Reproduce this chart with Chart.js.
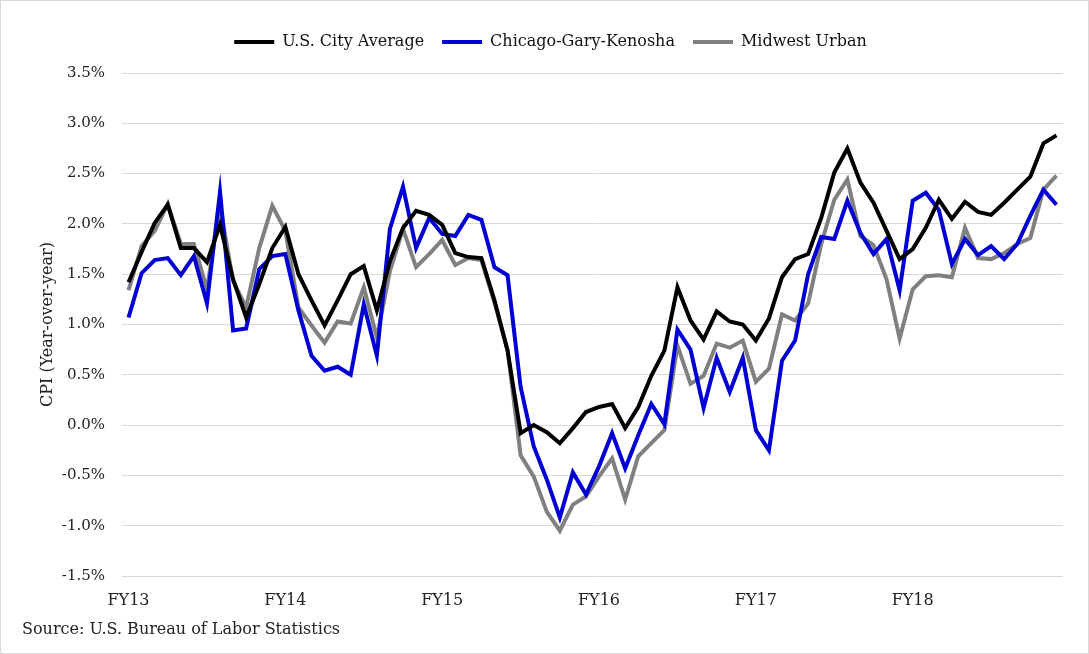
<!DOCTYPE html>
<html lang="en">
<head>
<meta charset="UTF-8">
<title>CPI Year-over-year</title>
<script src="https://cdn.jsdelivr.net/npm/chart.js"></script>
<style>
  html, body { margin: 0; padding: 0; background: #fff; }
  #wrap { position: relative; width: 1087px; height: 652px; border: 1px solid #d9d9d9; }
</style>
</head>
<body>
<div id="wrap"><canvas id="cpiChart" width="1087" height="652"></canvas></div>
<script>
// fiscal year labels, one every 12 months
const fyLabels = ['FY13', 'FY14', 'FY15', 'FY16', 'FY17', 'FY18'];

// monthly CPI year-over-year change (%)
const usCityAverage = [
  1.42, 1.72, 2.01, 2.19, 1.76, 1.76, 1.62, 1.99, 1.45, 1.07, 1.40, 1.76,
  1.97, 1.50, 1.24, 0.99, 1.24, 1.50, 1.58, 1.14, 1.63, 1.96, 2.13, 2.09,
  1.99, 1.71, 1.67, 1.66, 1.24, 0.74, -0.08, 0.00, -0.07, -0.18, -0.03, 0.13,
  0.18, 0.21, -0.03, 0.18, 0.49, 0.74, 1.37, 1.04, 0.85, 1.13, 1.03, 1.00,
  0.84, 1.06, 1.47, 1.65, 1.70, 2.06, 2.51, 2.75, 2.41, 2.21, 1.93, 1.65,
  1.75, 1.96, 2.24, 2.05, 2.22, 2.12, 2.09, 2.21, 2.34, 2.47, 2.80, 2.88
];
const chicagoGaryKenosha = [
  1.07, 1.51, 1.64, 1.66, 1.49, 1.68, 1.21, 2.32, 0.94, 0.96, 1.55, 1.68,
  1.70, 1.14, 0.69, 0.54, 0.58, 0.50, 1.20, 0.69, 1.95, 2.37, 1.76, 2.06,
  1.90, 1.88, 2.09, 2.04, 1.57, 1.49, 0.38, -0.21, -0.54, -0.92, -0.47, -0.69,
  -0.41, -0.08, -0.43, -0.10, 0.21, 0.01, 0.95, 0.75, 0.17, 0.67, 0.33, 0.67,
  -0.05, -0.25, 0.64, 0.84, 1.50, 1.87, 1.85, 2.23, 1.91, 1.70, 1.85, 1.34,
  2.23, 2.31, 2.14, 1.60, 1.85, 1.69, 1.78, 1.65, 1.80, 2.08, 2.34, 2.19
];
const midwestUrban = [
  1.34, 1.78, 1.93, 2.20, 1.80, 1.80, 1.35, 2.18, 1.43, 1.17, 1.76, 2.18,
  1.93, 1.17, 0.99, 0.82, 1.03, 1.01, 1.37, 0.87, 1.53, 1.95, 1.57, 1.70,
  1.84, 1.59, 1.66, 1.64, 1.22, 0.75, -0.30, -0.51, -0.86, -1.05, -0.79, -0.71,
  -0.51, -0.33, -0.74, -0.31, -0.18, -0.05, 0.79, 0.41, 0.49, 0.81, 0.77, 0.84,
  0.43, 0.56, 1.10, 1.04, 1.21, 1.80, 2.24, 2.44, 1.88, 1.79, 1.45, 0.86,
  1.35, 1.48, 1.49, 1.47, 1.96, 1.66, 1.65, 1.71, 1.80, 1.86, 2.34, 2.48
];

const months = usCityAverage.map((v, i) => (i % 12 === 0 ? fyLabels[i / 12] : ''));

const serif = "'DejaVu Serif', 'Liberation Serif', serif";

// extra room between the legend and the plot
const legendGap = {
  id: 'legendGap',
  beforeInit(chart) {
    const fit = chart.legend.fit;
    chart.legend.fit = function () {
      fit.call(this);
      this.height += 13;
    };
  }
};

// source note under the x axis
const sourceNote = {
  id: 'sourceNote',
  afterDraw(chart) {
    const ctx = chart.ctx;
    ctx.save();
    ctx.font = "16px " + serif;
    ctx.fillStyle = '#222';
    ctx.textBaseline = 'middle';
    ctx.fillText('Source: U.S. Bureau of Labor Statistics', 21, 629);
    ctx.restore();
  }
};

function makeSet(label, data, color) {
  return {
    label: label,
    data: data,
    borderColor: color,
    backgroundColor: color,
    borderWidth: 4,
    pointRadius: 0,
    tension: 0,
    fill: false
  };
}

new Chart(document.getElementById('cpiChart'), {
  type: 'line',
  data: {
    labels: months,
    datasets: [
      makeSet('U.S. City Average', usCityAverage, '#000000'),
      makeSet('Chicago-Gary-Kenosha', chicagoGaryKenosha, '#0000d4'),
      makeSet('Midwest Urban', midwestUrban, '#808080')
    ]
  },
  options: {
    responsive: false,
    animation: false,
    layout: { padding: { left: 37, right: 25, top: 15, bottom: 47 } },
    plugins: {
      legend: {
        position: 'top',
        labels: {
          usePointStyle: true,
          pointStyle: 'line',
          pointStyleWidth: 40,
          boxHeight: 10,
          padding: 18,
          color: '#111',
          font: { family: serif, size: 16 }
        }
      },
      tooltip: { enabled: false }
    },
    scales: {
      x: {
        offset: true,
        grid: { display: false },
        border: { display: false },
        ticks: {
          autoSkip: false,
          maxRotation: 0,
          padding: 7,
          color: '#222',
          font: { family: serif, size: 16 },
          callback: function (value, index) {
            return months[index];
          }
        },
        afterFit: function (scale) { scale.height = 30; }
      },
      y: {
        min: -1.5,
        max: 3.5,
        grid: { color: '#d9d9d9', lineWidth: 1, drawTicks: false },
        border: { display: false },
        ticks: {
          stepSize: 0.5,
          padding: 17,
          color: '#222',
          font: { family: serif, size: 15 },
          callback: function (value) { return value.toFixed(1) + '%'; }
        },
        title: {
          display: true,
          text: 'CPI (Year-over-year)',
          color: '#222',
          font: { family: serif, size: 16 },
          padding: { top: 0, bottom: 4 }
        },
        afterFit: function (scale) { scale.width = 84; }
      }
    }
  },
  plugins: [legendGap, sourceNote]
});
</script>
</body>
</html>
